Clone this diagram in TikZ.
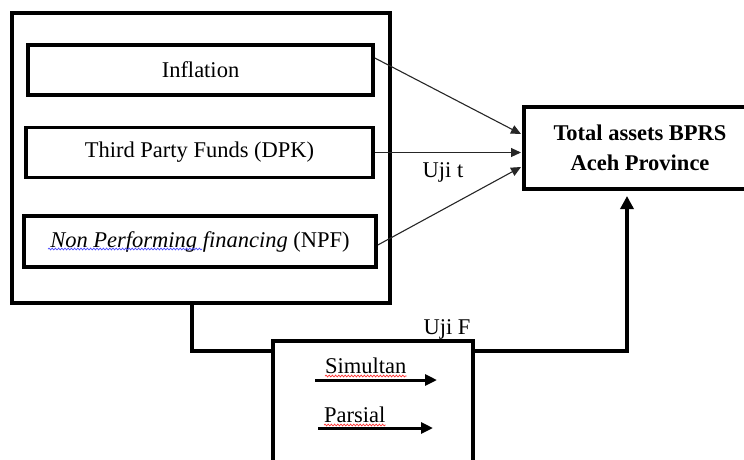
\documentclass[tikz,border=0pt]{standalone}
\usepackage{fontspec}
\setmainfont{Liberation Serif}
\usetikzlibrary{arrows.meta,decorations.pathmorphing}
\begin{document}
\begin{tikzpicture}[x=1pt,y=-1pt,
  font=\fontsize{22.5}{27}\selectfont,
  varbox/.style={draw,line width=3.6pt,inner sep=0pt,minimum height=50pt},
  thinarrow/.style={line width=1.1pt,-{Triangle[length=10pt,width=9pt]},color=black!85},
  thickline/.style={line width=4pt},
  smallarrow/.style={line width=3pt,-{Triangle[length=12pt,width=11pt]}},
  squiggle/.style={line width=0.7pt,decorate,decoration={snake,amplitude=0.9pt,segment length=3.2pt}},
  lbl/.style={inner sep=0pt}]
\useasboundingbox (0,0) rectangle (744,459);
\clip (0,0) rectangle (744,459);
\node[draw,line width=4.5pt,minimum width=378pt,minimum height=290pt,inner sep=0pt] (outer) at (201,158) {};
\node[varbox,minimum width=345pt] (infl) at (200.5,70) {Inflation};
\node[varbox,minimum width=347pt] (dpk) at (199.5,152.5) {Third Party Funds (DPK)};
\node[varbox,minimum width=352pt,minimum height=51pt] (npf) at (200,241.5) {\textit{Non Performing financing} (NPF)};
\node[draw,line width=4pt,minimum width=232pt,minimum height=82pt,inner sep=0pt,align=center,font=\fontsize{22.5}{30}\selectfont\bfseries] (target) at (640,148) {Total assets BPRS\\Aceh Province};
\node[draw,line width=3.8pt,minimum width=200pt,minimum height=140pt,inner sep=0pt] (ujif) at (373,411) {};
% thin arrows
\draw[thinarrow] ([yshift=12pt]infl.east) -- ([yshift=14pt,xshift=-1pt]target.west);
\draw[thinarrow] (dpk.east) -- ([xshift=-1pt]dpk.east -| target.west);
\draw[thinarrow] ([yshift=-3.5pt]npf.east) -- ([yshift=-19pt,xshift=-1pt]target.west);
\node[lbl] (ujit) at (443,172) {Uji t};
% thick connector
\coordinate (j1) at (192,351);
\coordinate (j2) at (627,351);
\draw[thickline] (outer.south -| j1) -- (j1) -- (j1 -| ujif.west);
\draw[thickline,-{Triangle[length=13pt,width=13pt]},shorten >=5pt] (j1 -| ujif.east) -- (j2) -- (target.south -| j2);
\node[lbl,anchor=south] (ujiF) at (447,339) {Uji F};
% inside Uji F box
\node[lbl,anchor=base west] (sim) at (325,373) {Simultan};
\node[lbl,anchor=base west] (par) at (324,422) {Parsial};
\coordinate (s1) at (315,380);
\coordinate (s2) at (437,380);
\coordinate (p1) at (318,428);
\coordinate (p2) at (433,428);
\draw[smallarrow] (s1) -- (s2);
\draw[smallarrow] (p1) -- (p2);
% spell-check underlines
\draw[squiggle,red!80] ([yshift=-3pt]sim.base west) -- ([yshift=-3pt]sim.base east);
\draw[squiggle,red!80] ([yshift=-3pt]par.base west) -- ([yshift=-3pt]par.base east);
\draw[squiggle,blue!70] (48,249) -- (202,249);
\end{tikzpicture}
\end{document}
